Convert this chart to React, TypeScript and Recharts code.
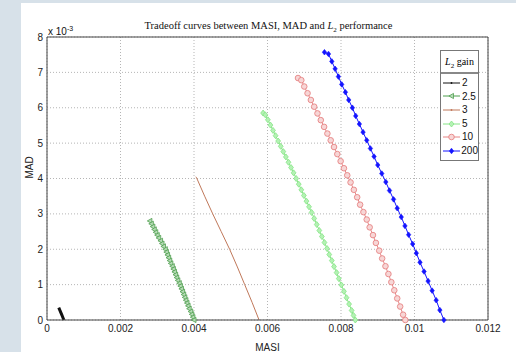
import { LineChart, Line, XAxis, YAxis, CartesianGrid, ReferenceLine } from 'recharts'

const masiTicks = [0, 0.002, 0.004, 0.006, 0.008, 0.01, 0.012]
const madTicks = [0, 1, 2, 3, 4, 5, 6, 7, 8]
const gainLabels = ['2', '2.5', '3', '5', '10', '200']

// MAD is in units of 1e-3 (as on the axis)
const gain2Masi = [0.00032, 0.00036, 0.0004, 0.00044, 0.00046]
const gain2Mad = [0.35, 0.25, 0.15, 0.05, 0]

const gain25Masi = [0.0028, 0.00284, 0.00288, 0.00292, 0.00296, 0.003, 0.00304, 0.00309, 0.00313, 0.00317, 0.00322, 0.00325, 0.00328, 0.00331, 0.00334, 0.00337, 0.00341, 0.00344, 0.00347, 0.0035, 0.00353, 0.00356, 0.0036, 0.00363, 0.00366, 0.00369, 0.00372, 0.00375, 0.00378, 0.00381, 0.00384, 0.00387, 0.00391, 0.00394, 0.00397, 0.004]
const gain25Mad = [2.8, 2.72, 2.64, 2.56, 2.48, 2.4, 2.32, 2.24, 2.16, 2.08, 2.0, 1.92, 1.84, 1.76, 1.68, 1.6, 1.52, 1.44, 1.36, 1.28, 1.2, 1.12, 1.04, 0.96, 0.88, 0.8, 0.72, 0.64, 0.56, 0.48, 0.4, 0.32, 0.24, 0.16, 0.08, 0]

const gain3Masi = [0.00405, 0.00407, 0.00429, 0.00451, 0.00474, 0.00497, 0.00518, 0.00538, 0.00558, 0.00577]
const gain3Mad = [4.05, 4.02, 3.5, 3.0, 2.5, 2.0, 1.5, 1.0, 0.5, 0]

const gain5Masi = [0.00588, 0.00594, 0.00601, 0.00608, 0.00615, 0.00622, 0.00629, 0.00636, 0.00643, 0.0065, 0.00657, 0.00664, 0.00671, 0.00678, 0.00685, 0.00692, 0.00699, 0.00706, 0.00713, 0.0072, 0.00727, 0.00734, 0.00741, 0.00748, 0.00755, 0.00762, 0.00768, 0.00775, 0.00781, 0.00788, 0.00794, 0.00801, 0.00808, 0.00815, 0.00822, 0.00829, 0.00834, 0.00839]
const gain5Mad = [5.85, 5.8, 5.66, 5.51, 5.36, 5.21, 5.06, 4.91, 4.76, 4.61, 4.46, 4.31, 4.16, 4.0, 3.84, 3.68, 3.52, 3.36, 3.2, 3.04, 2.87, 2.7, 2.53, 2.36, 2.19, 2.02, 1.85, 1.68, 1.51, 1.34, 1.17, 0.99, 0.81, 0.63, 0.45, 0.27, 0.13, 0]

const gain10Masi = [0.00683, 0.00692, 0.007, 0.00709, 0.00718, 0.00727, 0.00736, 0.00745, 0.00754, 0.00763, 0.00772, 0.00781, 0.0079, 0.00799, 0.00808, 0.00817, 0.00826, 0.00835, 0.00844, 0.00852, 0.00861, 0.0087, 0.00878, 0.00887, 0.00895, 0.00904, 0.00912, 0.00921, 0.00929, 0.00937, 0.00945, 0.00953, 0.00961, 0.00969, 0.00975]
const gain10Mad = [6.84, 6.78, 6.6, 6.41, 6.22, 6.03, 5.84, 5.65, 5.46, 5.27, 5.08, 4.89, 4.69, 4.49, 4.29, 4.09, 3.89, 3.68, 3.47, 3.26, 3.05, 2.84, 2.62, 2.4, 2.18, 1.96, 1.74, 1.52, 1.3, 1.07, 0.84, 0.61, 0.38, 0.15, 0]

const gain200Masi = [0.00755, 0.00766, 0.00775, 0.00784, 0.00793, 0.00802, 0.00812, 0.00821, 0.00831, 0.0084, 0.0085, 0.0086, 0.0087, 0.0088, 0.0089, 0.009, 0.00911, 0.00922, 0.00932, 0.00943, 0.00953, 0.00964, 0.00974, 0.00984, 0.00995, 0.01005, 0.01015, 0.01026, 0.01037, 0.01048, 0.01059, 0.01069, 0.0108]
const gain200Mad = [7.57, 7.52, 7.31, 7.1, 6.88, 6.66, 6.44, 6.22, 6.0, 5.77, 5.54, 5.31, 5.08, 4.85, 4.62, 4.38, 4.14, 3.9, 3.66, 3.41, 3.16, 2.91, 2.66, 2.41, 2.15, 1.89, 1.63, 1.37, 1.1, 0.83, 0.56, 0.28, 0]

const zip = (xs: number[], ys: number[]) => xs.map((x, i) => ({ x, y: ys[i] }))

type Marker = 'none' | 'tri' | 'diamond' | 'circle' | 'star'

const series = [
  { name: gainLabels[0], data: zip(gain2Masi, gain2Mad), color: '#111111', marker: 'none' as Marker, width: 3 },
  { name: gainLabels[1], data: zip(gain25Masi, gain25Mad), color: '#4f9e4f', marker: 'tri' as Marker, width: 1 },
  { name: gainLabels[2], data: zip(gain3Masi, gain3Mad), color: '#c0785a', marker: 'none' as Marker, width: 1 },
  { name: gainLabels[3], data: zip(gain5Masi, gain5Mad), color: '#86e486', marker: 'diamond' as Marker, width: 1 },
  { name: gainLabels[4], data: zip(gain10Masi, gain10Mad), color: '#e68484', marker: 'circle' as Marker, width: 1 },
  { name: gainLabels[5], data: zip(gain200Masi, gain200Mad), color: '#1414ff', marker: 'star' as Marker, width: 1 },
]

function shape(marker: Marker, color: string, cx: number, cy: number, key?: string) {
  if (marker === 'tri')
    return <polygon key={key} points={`${cx - 2.6},${cy} ${cx + 2},${cy - 2.6} ${cx + 2},${cy + 2.6}`} fill="#b6dcb6" stroke={color} strokeWidth={0.8} />
  if (marker === 'diamond')
    return <polygon key={key} points={`${cx},${cy - 3} ${cx + 2.4},${cy} ${cx},${cy + 3} ${cx - 2.4},${cy}`} fill="#b4f2b4" stroke={color} strokeWidth={0.8} />
  if (marker === 'circle')
    return <circle key={key} cx={cx} cy={cy} r={2.8} fill="#f7d6d6" stroke={color} strokeWidth={0.9} />
  if (marker === 'star')
    return <polygon key={key} points={`${cx},${cy - 2.8} ${cx + 2.2},${cy} ${cx},${cy + 2.8} ${cx - 2.2},${cy}`} fill={color} stroke={color} strokeWidth={0.6} />
  return <g key={key} />
}

function makeDot(s: (typeof series)[number]) {
  return (p: any) => shape(s.marker, s.color, p.cx, p.cy, `${s.name}-${p.index}`)
}

function GainLegend() {
  return (
    <div style={{ position: 'absolute', left: 419, top: 47, border: '1px solid #777', background: '#fff', width: 37, fontSize: 10, lineHeight: '13.6px' }}>
      <div style={{ fontFamily: '"Liberation Serif", serif', height: 21, lineHeight: '21px', textAlign: 'center', borderBottom: '2px solid #888', fontSize: 10 }}>
        <i>L</i><sub style={{ fontSize: 7 }}>2</sub> gain
      </div>
      <div style={{ padding: '2px 0 2px 0' }}>
        {series.map((s) => (
          <div key={s.name} style={{ display: 'flex', alignItems: 'center', height: 13.6 }}>
            <svg width={19} height={10} style={{ marginLeft: 2 }}>
              <line x1={0} y1={5} x2={17} y2={5} stroke={s.color} strokeWidth={1} />
              {s.marker === 'none' ? <circle cx={8.5} cy={5} r={0.9} fill={s.color} /> : shape(s.marker, s.color, 8.5, 5)}
            </svg>
            <span style={{ fontFamily: '"Liberation Sans", Arial, sans-serif', color: '#111' }}>{s.name}</span>
          </div>
        ))}
      </div>
    </div>
  )
}

export default function App() {
  const sans = '"Liberation Sans", Arial, sans-serif'
  return (
    <div style={{ position: 'absolute', left: 0, top: 0, width: 516, height: 352, background: '#d7e1e9', overflow: 'hidden' }}>
      <div style={{ position: 'absolute', left: 21, top: 3, width: 495, height: 349, background: '#fff' }}>
        <div style={{ position: 'absolute', left: 0, width: 495, top: 17, textAlign: 'center', fontFamily: '"Liberation Serif", serif', fontSize: 10.5, color: '#111' }}>
          Tradeoff curves between MASI, MAD and <i>L</i><sub style={{ fontSize: 7 }}>2</sub> performance
        </div>
        <div style={{ position: 'absolute', left: 27, top: 22, fontFamily: sans, fontSize: 10, color: '#111' }}>
          x 10<sup style={{ fontSize: 7 }}>-3</sup>
        </div>
        <LineChart width={495} height={349} margin={{ top: 34, right: 28, left: 0, bottom: 0 }}>
          <CartesianGrid stroke="#b5b5b5" strokeDasharray="1 2" />
          <XAxis
            type="number"
            dataKey="x"
            domain={[0, 0.012]}
            ticks={masiTicks}
            tickFormatter={(v: number) => String(v)}
            tickSize={0}
            tickMargin={5}
            height={32}
            stroke="#444"
            tick={{ fill: '#222', fontSize: 10, fontFamily: sans }}
            label={{ value: 'MASI', position: 'insideBottom', offset: 1, fill: '#222', fontSize: 10, fontFamily: sans }}
          />
          <YAxis
            type="number"
            dataKey="y"
            domain={[0, 8]}
            ticks={madTicks}
            tickSize={0}
            tickMargin={4}
            width={26}
            stroke="#444"
            tick={{ fill: '#222', fontSize: 10, fontFamily: sans }}
            label={{ value: 'MAD', angle: -90, position: 'insideLeft', offset: 8, fill: '#222', fontSize: 10, fontFamily: sans }}
          />
          <ReferenceLine y={8} stroke="#444" />
          <ReferenceLine x={0.012} stroke="#444" />
          {series.map((s) => (
            <Line
              key={s.name}
              name={s.name}
              data={s.data}
              dataKey="y"
              type="linear"
              stroke={s.color}
              strokeWidth={s.width}
              dot={s.marker === 'none' ? false : makeDot(s)}
              activeDot={false}
              isAnimationActive={false}
            />
          ))}
        </LineChart>
        <GainLegend />
      </div>
    </div>
  )
}
